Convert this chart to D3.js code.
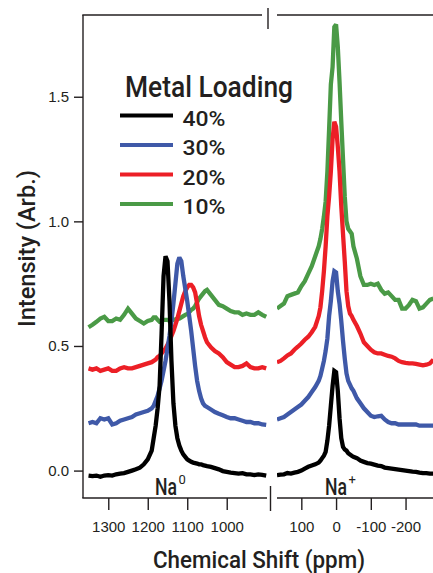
<!DOCTYPE html>
<html>
<head>
<meta charset="utf-8">
<script src="https://cdn.jsdelivr.net/npm/d3@7"></script>
<style>
  html, body { margin: 0; padding: 0; background: #fff; }
  svg { display: block; }
</style>
</head>
<body>
<svg id="chart" width="433" height="573"></svg>
<script>
// ---------------- DATA ----------------
const seriesNames = ["40%", "30%", "20%", "10%"];
const seriesColors = ["#000000", "#3f59a8", "#ec1f26", "#4a9a46"];

// Left panel (Na0 region) chemical shift grid, ppm
const ppmLeft = [1350,1340,1330,1320,1310,1300,1290,1280,1270,1260,1250,1240,1230,1220,1210,1200,
  1190,1185,1180,1175,1170,1165,1160,1155,1150,1145,1140,1135,1130,1125,1120,1115,1110,1105,1100,1095,1090,1085,1080,1075,1070,1065,1060,1055,1050,
  1040,1030,1020,1010,1000,990,980,970,960,950,940,930,920,910,900];

const left40 = [-0.02,-0.022,-0.02,-0.025,-0.02,-0.018,-0.02,-0.015,-0.012,-0.01,-0.005,0.0,0.005,0.012,0.025,0.045,
  0.08,0.13,0.18,0.25,0.34,0.55,0.78,0.86,0.84,0.68,0.44,0.27,0.18,0.13,0.10,0.08,0.065,0.055,0.045,0.04,0.035,0.032,0.03,0.028,0.025,0.025,0.022,0.02,0.018,
  0.015,0.01,0.005,-0.002,-0.005,-0.008,-0.01,-0.012,-0.01,-0.015,-0.015,-0.018,-0.015,-0.017,-0.02];

const left30 = [0.19,0.195,0.19,0.21,0.205,0.21,0.185,0.19,0.2,0.205,0.21,0.215,0.225,0.23,0.235,0.24,
  0.25,0.26,0.28,0.30,0.33,0.36,0.40,0.44,0.49,0.54,0.60,0.67,0.75,0.83,0.855,0.84,0.78,0.73,0.68,0.62,0.56,0.49,0.42,0.36,0.32,0.29,0.27,0.26,0.255,
  0.245,0.235,0.228,0.222,0.215,0.21,0.21,0.205,0.2,0.195,0.195,0.19,0.19,0.185,0.183];

const left20 = [0.41,0.405,0.41,0.40,0.405,0.41,0.40,0.40,0.41,0.415,0.41,0.41,0.415,0.42,0.425,0.43,
  0.435,0.44,0.445,0.455,0.46,0.47,0.48,0.49,0.505,0.52,0.54,0.56,0.585,0.61,0.64,0.67,0.70,0.72,0.735,0.745,0.745,0.735,0.715,0.67,0.62,0.585,0.56,0.535,0.515,
  0.495,0.48,0.47,0.455,0.435,0.425,0.415,0.415,0.42,0.43,0.415,0.41,0.41,0.415,0.41];

const left10 = [0.575,0.585,0.597,0.61,0.617,0.60,0.60,0.61,0.605,0.625,0.65,0.63,0.61,0.60,0.59,0.60,
  0.605,0.615,0.615,0.605,0.597,0.60,0.605,0.605,0.605,0.60,0.605,0.605,0.607,0.61,0.61,0.615,0.62,0.625,0.628,0.635,0.645,0.65,0.66,0.675,0.69,0.70,0.71,0.72,0.725,
  0.705,0.685,0.665,0.66,0.65,0.64,0.635,0.635,0.625,0.63,0.625,0.625,0.635,0.625,0.617];

// Right panel (Na+ region) chemical shift grid, ppm
const ppmRight = [170,160,150,140,130,120,110,100,90,80,70,60,
  50,45,40,35,30,25,20,15,10,5,0,-5,-10,-15,-20,-25,-30,-35,-40,-45,-50,
  -60,-70,-80,-90,-100,-110,-120,-130,-140,-150,-160,-170,-180,-190,-200,-210,-220,-230,-240,-250,-260,-270,-280];

const right40 = [-0.018,-0.016,-0.015,-0.01,-0.012,-0.008,-0.005,0.0,0.008,0.015,0.02,0.025,
  0.032,0.04,0.05,0.06,0.075,0.12,0.18,0.26,0.34,0.40,0.395,0.32,0.21,0.13,0.095,0.085,0.08,0.07,0.065,0.06,0.055,
  0.05,0.04,0.035,0.03,0.028,0.024,0.02,0.018,0.012,0.01,0.008,0.006,0.004,0.002,0.0,-0.002,-0.004,-0.005,-0.008,-0.01,-0.01,-0.012,-0.012];

const right30 = [0.205,0.21,0.215,0.225,0.235,0.245,0.255,0.265,0.28,0.295,0.315,0.335,
  0.36,0.38,0.41,0.44,0.48,0.53,0.62,0.68,0.76,0.80,0.795,0.72,0.67,0.60,0.52,0.45,0.39,0.36,0.345,0.33,0.32,
  0.29,0.27,0.25,0.235,0.22,0.215,0.218,0.22,0.205,0.195,0.19,0.19,0.185,0.185,0.185,0.185,0.185,0.185,0.18,0.18,0.18,0.18,0.18];

const right20 = [0.435,0.44,0.45,0.462,0.47,0.485,0.497,0.51,0.525,0.537,0.555,0.577,
  0.62,0.655,0.72,0.80,0.90,1.02,1.10,1.20,1.33,1.40,1.38,1.30,1.20,1.06,0.95,0.84,0.72,0.66,0.63,0.62,0.605,
  0.58,0.55,0.515,0.50,0.485,0.475,0.47,0.47,0.465,0.46,0.457,0.45,0.44,0.435,0.432,0.43,0.43,0.428,0.425,0.422,0.425,0.43,0.445];

const right10 = [0.65,0.66,0.67,0.70,0.705,0.71,0.715,0.74,0.76,0.79,0.82,0.86,
  0.90,0.93,0.97,1.02,1.08,1.20,1.37,1.55,1.62,1.78,1.79,1.70,1.56,1.40,1.25,1.10,1.0,0.97,0.96,0.95,0.90,
  0.85,0.78,0.745,0.745,0.75,0.745,0.75,0.725,0.71,0.715,0.70,0.685,0.685,0.65,0.65,0.665,0.685,0.68,0.65,0.655,0.67,0.685,0.69];

const leftSeries = [left40, left30, left20, left10];
const rightSeries = [right40, right30, right20, right10];

const yTicks = [0, 0.5, 1.0, 1.5];
const xTicksLeft = [1300, 1200, 1100, 1000];
const xTicksRight = [100, 0, -100, -200];

// ---------------- LAYOUT ----------------
const ink = "#231f20";
const svg = d3.select("#chart");
const titleFont = "Roboto, 'Liberation Sans', Arial, sans-serif";
const regular = "'Liberation Sans', Arial, Helvetica, sans-serif";

const plotTop = 15, plotBottom = 498;
const y = d3.scaleLinear().domain([-0.11, 1.828]).range([plotBottom, plotTop]);
const xL = d3.scaleLinear().domain([1364, 898]).range([83, 267]);
const xR = d3.scaleLinear().domain([170, -279]).range([277, 433]);

// clip paths
const defs = svg.append("defs");
defs.append("clipPath").attr("id", "clipL").append("rect")
  .attr("x", 83).attr("y", 0).attr("width", 267 - 83).attr("height", plotBottom);
defs.append("clipPath").attr("id", "clipR").append("rect")
  .attr("x", 277).attr("y", 0).attr("width", 433 - 277).attr("height", plotBottom);

// spectra
function drawPanel(xs, ppm, series, clip) {
  const g = svg.append("g").attr("clip-path", `url(#${clip})`);
  for (let i = series.length - 1; i >= 0; i--) {
    const line = d3.line()
      .x((d, j) => xs(ppm[j]))
      .y(d => y(d));
    g.append("path")
      .datum(series[i])
      .attr("d", line)
      .attr("fill", "none")
      .attr("stroke", seriesColors[i])
      .attr("stroke-width", 4.3)
      .attr("stroke-linejoin", "miter")
      .attr("stroke-miterlimit", 2);
  }
}
drawPanel(xL, ppmLeft, leftSeries, "clipL");
drawPanel(xR, ppmRight, rightSeries, "clipR");

// frame lines
const frame = svg.append("g").attr("stroke", ink).attr("stroke-width", 1.4).attr("fill", "none");
frame.append("line").attr("x1", 83).attr("x2", 83).attr("y1", plotTop).attr("y2", plotBottom);
frame.append("line").attr("x1", 82.3).attr("x2", 262).attr("y1", plotTop).attr("y2", plotTop);
frame.append("line").attr("x1", 277).attr("x2", 433).attr("y1", plotTop).attr("y2", plotTop);
frame.append("line").attr("x1", 82.3).attr("x2", 267).attr("y1", plotBottom).attr("y2", plotBottom);
frame.append("line").attr("x1", 277).attr("x2", 433).attr("y1", plotBottom).attr("y2", plotBottom);
frame.append("line").attr("x1", 268).attr("x2", 268).attr("y1", 8).attr("y2", 29);
frame.append("line").attr("x1", 270.5).attr("x2", 270.5).attr("y1", 486).attr("y2", 511);

// y axis
const yAxis = svg.append("g").attr("transform", "translate(83,0)")
  .call(d3.axisLeft(y).tickValues(yTicks).tickFormat(d3.format(".1f")).tickSize(9).tickPadding(5));
yAxis.select(".domain").remove();
yAxis.selectAll("line").attr("stroke", ink).attr("stroke-width", 1.4);
yAxis.selectAll("text").attr("fill", ink).style("font-family", regular).style("font-size", "15px");

// x axes
function xAxis(scale, ticks) {
  const g = svg.append("g").attr("transform", `translate(0,${plotBottom})`)
    .call(d3.axisBottom(scale).tickValues(ticks).tickFormat(d => String(d)).tickSize(12).tickPadding(11));
  g.select(".domain").remove();
  g.selectAll("line").attr("stroke", ink).attr("stroke-width", 1.4);
  g.selectAll("text").attr("fill", ink).style("font-family", regular).style("font-size", "15px");
}
xAxis(xL, xTicksLeft);
xAxis(xR, xTicksRight);

// axis titles
svg.append("text")
  .attr("x", 259).attr("y", 568)
  .attr("text-anchor", "middle")
  .attr("textLength", 212).attr("lengthAdjust", "spacingAndGlyphs")
  .attr("fill", ink)
  .style("font-family", titleFont).style("font-size", "23px").style("font-weight", 500)
  .text("Chemical Shift (ppm)");

svg.append("text")
  .attr("transform", "translate(35,248.5) rotate(-90)")
  .attr("text-anchor", "middle")
  .attr("textLength", 157).attr("lengthAdjust", "spacingAndGlyphs")
  .attr("fill", ink)
  .style("font-family", titleFont).style("font-size", "24px").style("font-weight", 500)
  .text("Intensity (Arb.)");

// Na labels (condensed base text + separate superscript)
function naLabel(x, sup) {
  svg.append("text")
    .attr("transform", `translate(${x},494.5) scale(0.72,1)`)
    .attr("fill", ink)
    .style("font-family", titleFont).style("font-size", "24.5px").style("font-weight", 500)
    .text("Na");
  svg.append("text").attr("x", x + 23.5).attr("y", 484).attr("fill", ink)
    .style("font-family", titleFont).style("font-size", "13px")
    .text(sup);
}
naLabel(155, "0");
naLabel(325, "+");

// legend
svg.append("text")
  .attr("x", 125).attr("y", 96.7)
  .attr("textLength", 168).attr("lengthAdjust", "spacingAndGlyphs")
  .attr("fill", ink)
  .style("font-family", titleFont).style("font-size", "29px").style("font-weight", 500)
  .text("Metal Loading");

const legendYs = [115.5, 145, 174.5, 204];
seriesNames.forEach((name, i) => {
  svg.append("line")
    .attr("x1", 120).attr("x2", 173)
    .attr("y1", legendYs[i]).attr("y2", legendYs[i])
    .attr("stroke", seriesColors[i]).attr("stroke-width", 4);
  svg.append("text")
    .attr("x", 182.5).attr("y", legendYs[i] + 10)
    .attr("textLength", 43).attr("lengthAdjust", "spacingAndGlyphs")
    .attr("fill", ink)
    .style("font-family", titleFont).style("font-size", "21px").style("font-weight", 500)
    .text(name);
});
</script>
</body>
</html>
